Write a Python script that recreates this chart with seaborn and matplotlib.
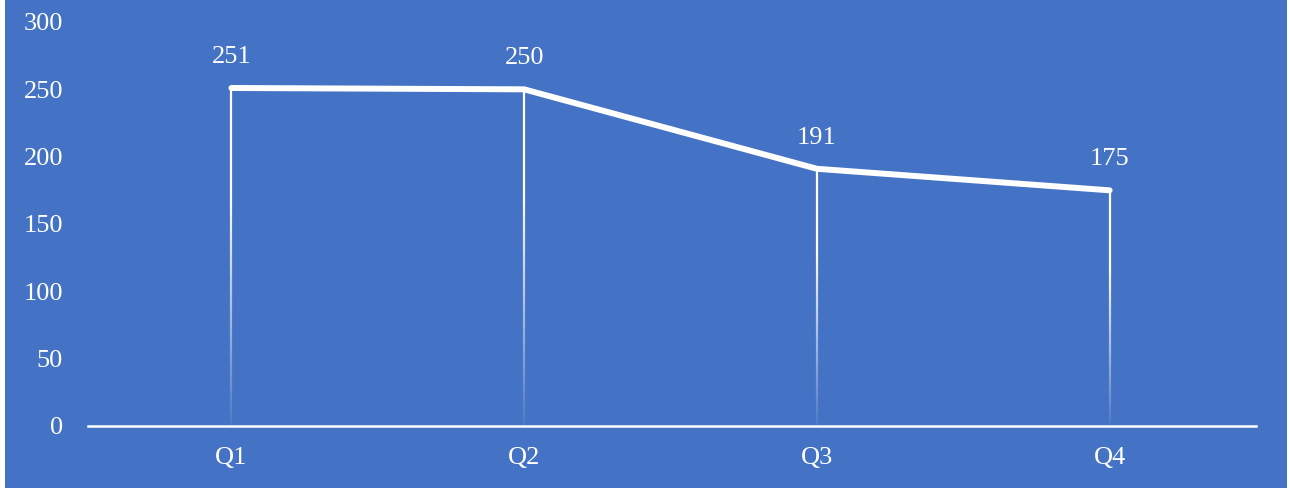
import numpy as np
import pandas as pd
import matplotlib
matplotlib.use("Agg")
import matplotlib.pyplot as plt
import seaborn as sns
from matplotlib.collections import LineCollection
from matplotlib.patches import Rectangle

categories = ["Q1", "Q2", "Q3", "Q4"]
values = [251, 250, 191, 175]
y_ticks = [0, 50, 100, 150, 200, 250, 300]

BLUE = "#4472C4"

sns.set_theme(style="white")
plt.rcParams["font.family"] = ["Liberation Serif", "DejaVu Serif"]

fig = plt.figure(figsize=(12.9, 4.88), dpi=100, facecolor="white")
fig.patches.append(Rectangle((5 / 1290, 0), (1287 - 5) / 1290, 1, transform=fig.transFigure,
                             facecolor=BLUE, edgecolor="none", zorder=-10))
ax = fig.add_axes([88 / 1290, (488 - 426) / 488, (1256 - 88) / 1290, (426 - 22) / 488])
ax.set_zorder(1)
ax.patch.set_alpha(0)

df = pd.DataFrame({"quarter": categories, "value": values})
x = np.arange(len(categories))

# drop lines fading toward the bottom
for xi, v in zip(x, values):
    n = 80
    ys = np.linspace(0, v, n + 1)
    segs = [[(xi, ys[i]), (xi, ys[i + 1])] for i in range(n)]
    frac = (ys[:-1] + ys[1:]) / 2 / v
    alphas = np.clip(0.05 + 1.4 * frac, 0, 1)
    cols = [(1, 1, 1, a) for a in alphas]
    ax.add_collection(LineCollection(segs, colors=cols, linewidths=1.6, zorder=2))

sns.lineplot(data=df, x="quarter", y="value", ax=ax, color="white", linewidth=4.3,
             sort=False, zorder=3, solid_capstyle="round", solid_joinstyle="round")

for xi, v in zip(x, values):
    ax.annotate(str(v), (xi, v), xytext=(0, 18), textcoords="offset points",
                ha="center", va="baseline", color="white", fontsize=19)

ax.set_xlim(-0.49, 3.5)
ax.set_ylim(0, 300)
ax.set_yticks(y_ticks)
ax.set_xticks(x)
ax.set_xticklabels(categories)
ax.tick_params(axis="both", colors="white", labelsize=19, length=0)
ax.tick_params(axis="y", pad=18)
ax.tick_params(axis="x", pad=15)
ax.set_xlabel("")
ax.set_ylabel("")
for s in ["top", "right", "left"]:
    ax.spines[s].set_visible(False)
ax.spines["bottom"].set_color("white")
ax.spines["bottom"].set_linewidth(1.8)
ax.spines["bottom"].set_zorder(4)

fig.savefig("out.png", dpi=100, facecolor=fig.get_facecolor())
